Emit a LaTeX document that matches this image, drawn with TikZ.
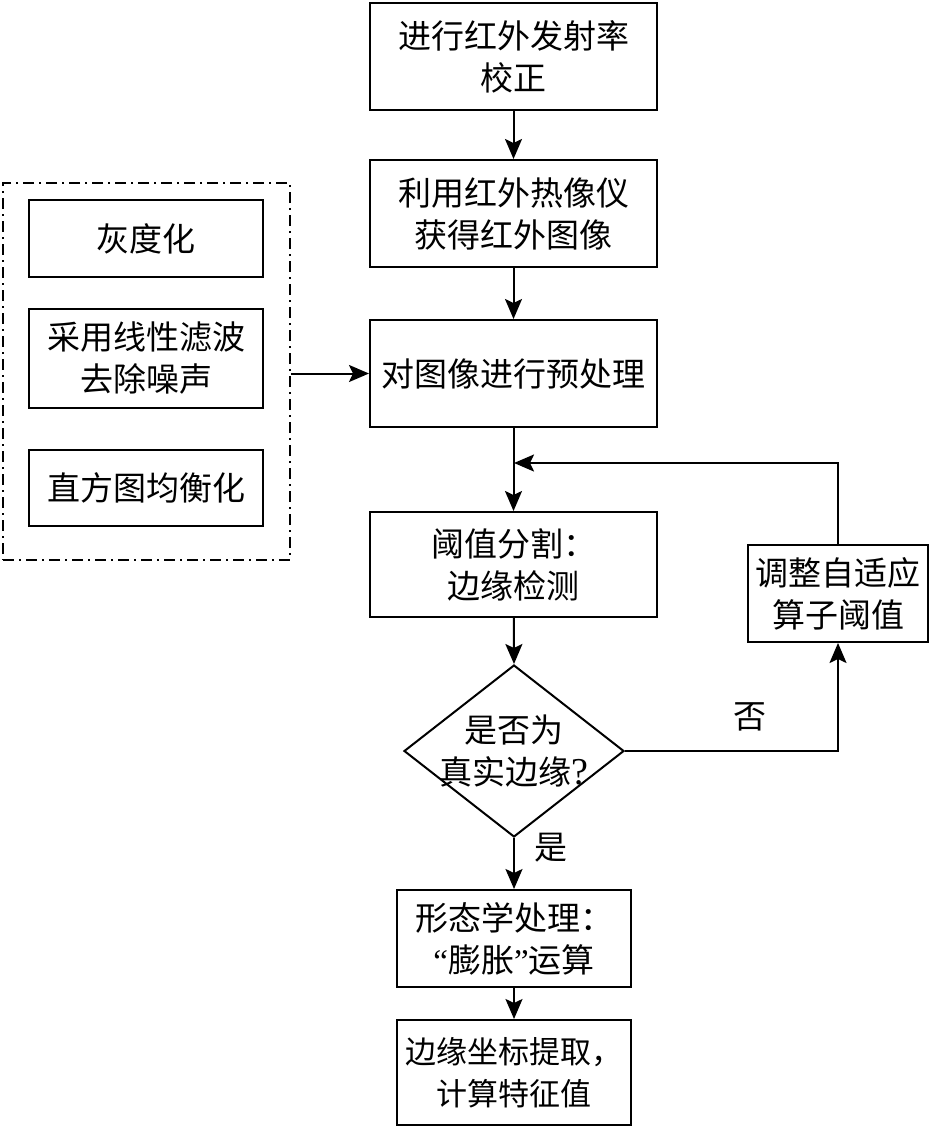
\documentclass[tikz,border=0pt]{standalone}
\usepackage{fontspec}
\setmainfont{Noto Sans CJK SC}
\newfontfamily\latn{Liberation Serif}
\usetikzlibrary{arrows.meta,shapes.geometric}
\begin{document}
\begin{tikzpicture}[x=1pt,y=-1pt,
  every node/.style={font=\fontsize{33}{42}\selectfont, align=center},
  box/.style={draw, line width=2pt, rectangle, inner sep=0pt},
  arr/.style={line width=2pt, -{Stealth[length=20pt,width=17pt,inset=4pt]}},
  dashdot box/.style={draw, line width=2pt, dash pattern=on 11pt off 5pt on 2pt off 5pt}
]
\useasboundingbox (0,0) rectangle (932,1129);
\node[box, minimum width=287, minimum height=107] (b1) at (513.5,56.5) {进行红外发射率\\校正};
\node[box, minimum width=287, minimum height=107] (b2) at (513.5,213.5) {利用红外热像仪\\获得红外图像};
\node[box, minimum width=287, minimum height=107] (b3) at (513.5,373.5) {对图像进行预处理};
\node[box, minimum width=287, minimum height=105] (b4) at (513.5,564.5) {阈值分割：\\边缘检测};
\node[draw, line width=2pt, diamond, minimum width=220, minimum height=172, inner sep=0pt] (d) at (514,751) {};
\node (dt) at (514,751) {是否为\\真实边缘{\latn\fontsize{38}{42}\selectfont ?}};
\node[box, minimum width=234, minimum height=97] (b5) at (514,938.5) {形态学处理：\\{\latn “}膨胀{\latn ”}运算};
\node[box, minimum width=234, minimum height=105, font=\fontsize{31}{42}\selectfont] (b6) at (514,1072.5) {边缘坐标提取，\\计算特征值};
\node[box, minimum width=180, minimum height=97] (adj) at (838,593.5) {调整自适应\\算子阈值};
% left group
\node[dashdot box, minimum width=287, minimum height=377, inner sep=0pt] (grp) at (146.5,371.5) {};
\node[box, minimum width=234, minimum height=77] (g1) at (146,238.5) {灰度化};
\node[box, minimum width=234, minimum height=99] (g2) at (146,358.5) {采用线性滤波\\去除噪声};
\node[box, minimum width=234, minimum height=76] (g3) at (146,488) {直方图均衡化};
\coordinate (fb) at (514,463);
% connectors
\draw[arr] (b1) -- (b2);
\draw[arr] (b2) -- (b3);
\draw[arr] (b3) -- (b4);
\draw[arr] (b4) -- (d.north);
\draw[arr] (d.south) -- (b5);
\draw[arr] (b5) -- (b6);
\draw[arr] (b3.west -| grp.east) -- (b3.west);
\draw[arr] (d.east) -| (adj.south);
\draw[arr] (adj.north) |- (fb);
\node at (750,717) {否};
\node at (551,848) {是};
\end{tikzpicture}
\end{document}
